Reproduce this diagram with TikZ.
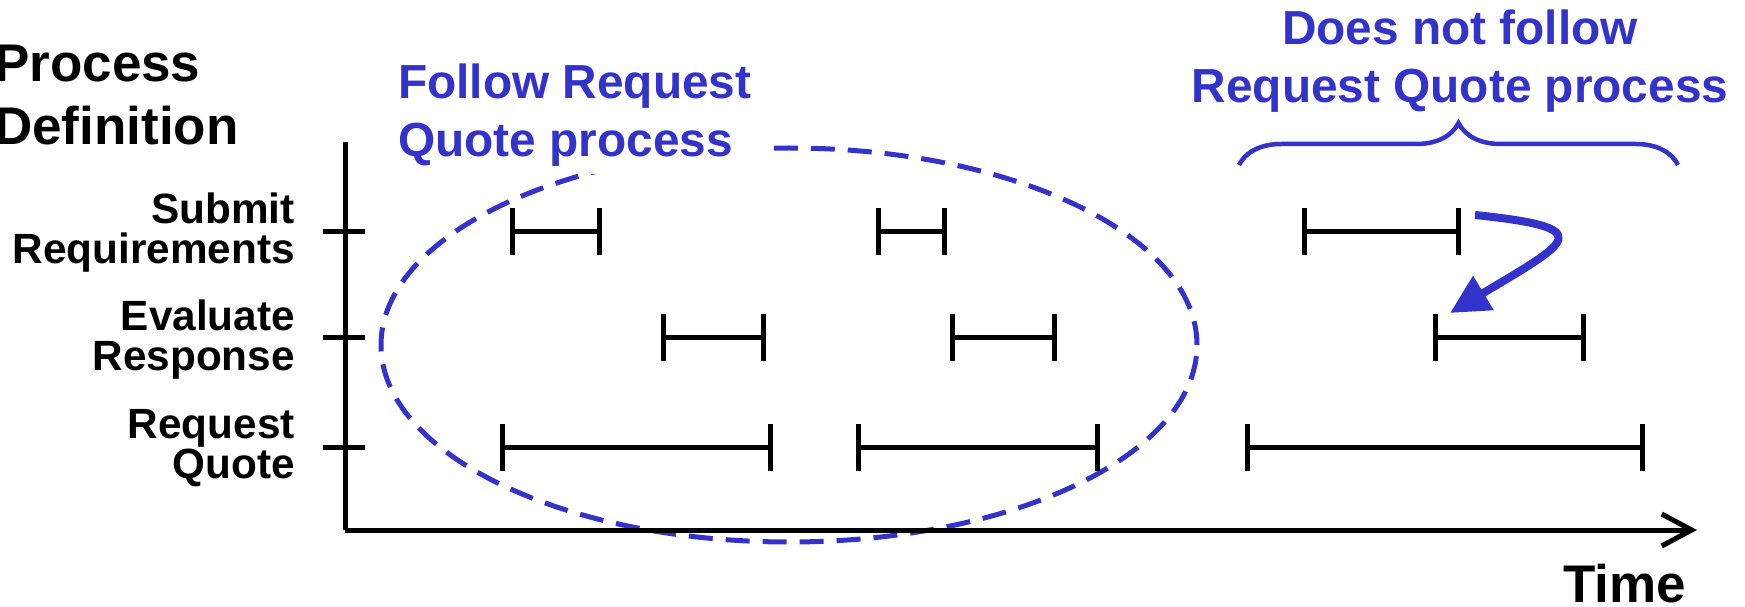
\documentclass[tikz,border=0pt]{standalone}
\usepackage{fontspec}
\setmainfont{Liberation Sans}
\usetikzlibrary{arrows.meta,decorations.pathreplacing}
\definecolor{noteblue}{RGB}{51,51,204}

\begin{document}
\begin{tikzpicture}[x=1pt,y=1pt,
    axis/.style={line width=5pt},
    span/.style={line width=5pt,{Bar[width=47pt]}-{Bar[width=47pt]}},
    rowlabel/.style={anchor=base east,align=right,inner sep=0pt,
      font=\fontsize{42.3}{40}\selectfont\bfseries},
    note/.style={text=noteblue,font=\fontsize{47.8}{58}\selectfont\bfseries},
    bigtext/.style={inner sep=0pt,font=\fontsize{53}{63}\selectfont\bfseries}]
  \useasboundingbox (0,0) rectangle (1745,606);

  % dashed ring round the cases that follow the process
  \draw[noteblue,line width=5pt,dash pattern=on 24pt off 13pt]
    (789,261) ellipse [x radius=408,y radius=197];

  % axes
  \coordinate (ytop) at (345,464);
  \coordinate (o) at (345,76);
  \coordinate (xend) at (1697,76);
  \draw[axis] (ytop) -- (o);
  \draw[axis,-{Straight Barb[length=30pt,width=32pt]}] (o) -- (xend);
  \foreach \y in {374,269,159}
    \draw[axis] (323,\y) -- (365,\y);

  \node[rowlabel] (submit) at (295,342) {Submit\\Requirements};
  \node[rowlabel] (evaluate) at (295,236) {Evaluate\\Response};
  \node[rowlabel] (request) at (295,128) {Request\\Quote};

  \node[bigtext,anchor=base west,align=left] (procdef) at (-6,461) {Process\\Definition};
  \node[bigtext,anchor=base east] (time) at (1686,4) {Time};

  % time spans of each step
  \foreach \a/\b/\y in {510/602/374, 876/947/374, 1302/1461/374,
                        661/766/269, 950/1057/269, 1433/1586/269,
                        500/773/159, 856/1100/159, 1245/1645/159}
    \draw[span] (\a,\y) -- (\b,\y);

  \node[note,anchor=base west,align=left,fill=white,inner xsep=20pt,inner ysep=7pt]
    (follow) at (378,449) {Follow Request\\Quote process};
  \node[note,anchor=base,align=center,inner sep=0pt]
    (notfollow) at (1460,503) {Does not follow\\Request Quote process};

  \coordinate (bl) at (1239,441);
  \coordinate (br) at (1678,441);
  \draw[noteblue,line width=4.5pt,decorate,decoration={brace,amplitude=42pt}] (bl) -- (br);

  \coordinate (back1) at (1475,391);
  \coordinate (back2) at (1450,293);
  \draw[noteblue,line width=8pt,-{Triangle[length=39pt,width=38pt]}]
    (back1) .. controls (1600,378) and (1570,365) .. (back2);
\end{tikzpicture}
\end{document}
